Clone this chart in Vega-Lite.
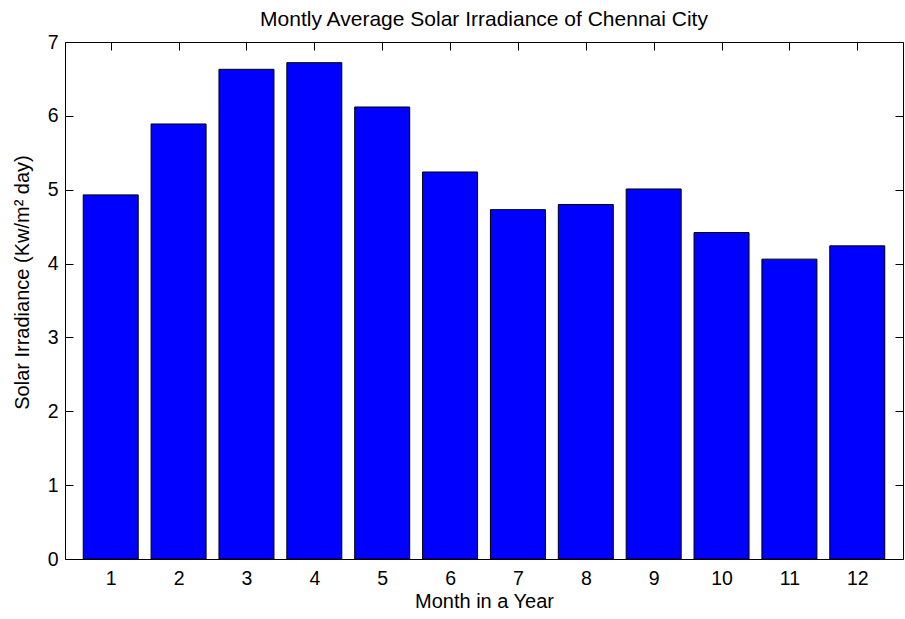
{
  "$schema": "https://vega.github.io/schema/vega-lite/v6.json",
  "autosize": "none",
  "width": 838,
  "height": 517,
  "padding": {"left": 65, "top": 42, "right": 2, "bottom": 60},
  "background": "white",
  "config": {
    "font": "Liberation Sans",
    "view": {"stroke": "black", "strokeWidth": 1},
    "axis": {
      "domain": false,
      "grid": false,
      "tickColor": "black",
      "tickWidth": 1,
      "tickSize": -8,
      "labelColor": "black",
      "labelFont": "Liberation Sans",
      "labelFontSize": 19.5,
      "titleFont": "Liberation Sans",
      "titleFontSize": 20,
      "titleFontWeight": "normal",
      "titleColor": "black"
    }
  },
  "title": {
    "text": "Montly Average Solar Irradiance of Chennai City",
    "font": "Liberation Sans",
    "fontSize": 21,
    "fontWeight": "normal",
    "color": "black",
    "offset": 2
  },
  "data": {
    "values": [
      {"month": 1, "irradiance": 4.93},
      {"month": 2, "irradiance": 5.89},
      {"month": 3, "irradiance": 6.63},
      {"month": 4, "irradiance": 6.72},
      {"month": 5, "irradiance": 6.12},
      {"month": 6, "irradiance": 5.24},
      {"month": 7, "irradiance": 4.73},
      {"month": 8, "irradiance": 4.80},
      {"month": 9, "irradiance": 5.01},
      {"month": 10, "irradiance": 4.42},
      {"month": 11, "irradiance": 4.06},
      {"month": 12, "irradiance": 4.24}
    ]
  },
  "layer": [
    {
      "mark": {"type": "bar", "size": 55, "fill": "#0000ff", "stroke": "black", "strokeWidth": 1},
      "encoding": {
        "x": {
          "field": "month", "type": "quantitative",
          "scale": {"domain": [0.4, 12.6], "nice": false, "zero": false},
          "axis": {
            "orient": "bottom",
            "values": [1,2,3,4,5,6,7,8,9,10,11,12],
            "format": "d",
            "labelPadding": 18,
            "title": "Month in a Year",
            "titleBaseline": "alphabetic",
            "titleY": 48
          }
        },
        "y": {
          "field": "irradiance", "type": "quantitative",
          "scale": {"domain": [0, 7], "nice": false},
          "axis": {
            "orient": "left",
            "values": [0,1,2,3,4,5,6,7],
            "format": "d",
            "labelPadding": 15,
            "title": "Solar Irradiance (Kw/m² day)",
            "titleBaseline": "alphabetic",
            "titleX": -36.5,
            "titleY": 240,
            "titleAngle": -90
          }
        }
      }
    },
    {
      "mark": {"type": "bar", "size": 55, "opacity": 0},
      "encoding": {
        "x": {
          "field": "month", "type": "quantitative",
          "scale": {"domain": [0.4, 12.6], "nice": false, "zero": false},
          "axis": {"orient": "top", "values": [1,2,3,4,5,6,7,8,9,10,11,12], "labels": false, "title": null}
        },
        "y": {
          "field": "irradiance", "type": "quantitative",
          "scale": {"domain": [0, 7], "nice": false},
          "axis": {"orient": "right", "values": [0,1,2,3,4,5,6,7], "labels": false, "title": null}
        }
      }
    }
  ],
  "resolve": {"axis": {"x": "independent", "y": "independent"}}
}
